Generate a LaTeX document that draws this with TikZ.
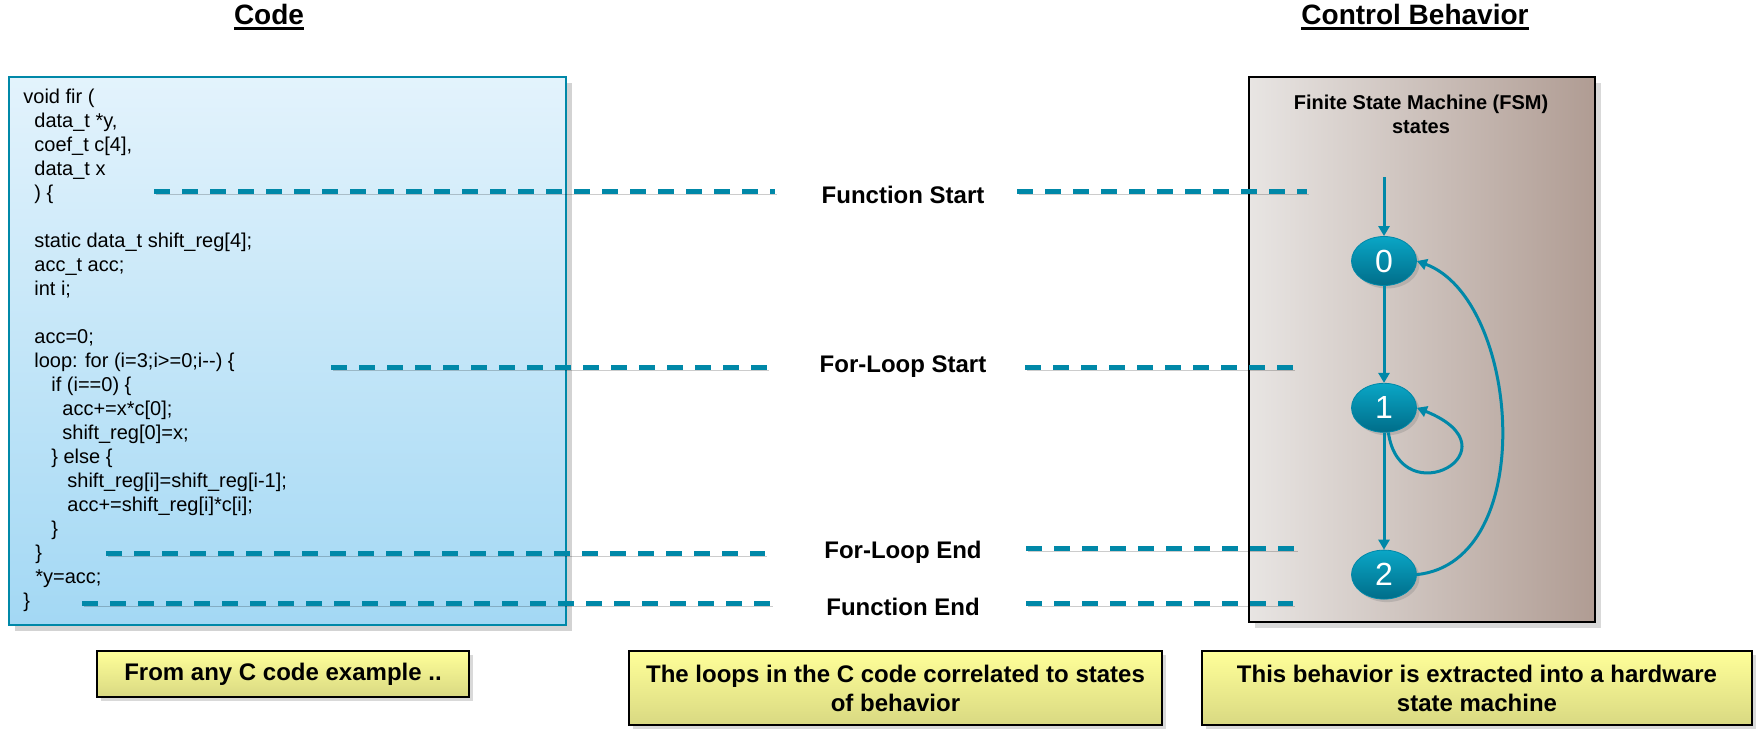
\documentclass[tikz,border=0pt]{standalone}
\usepackage{fontspec}
\setmainfont{Liberation Sans}
\usetikzlibrary{positioning,shapes.geometric,shadows,arrows.meta}

\definecolor{fsmteal}{HTML}{0088A8}
\definecolor{codetop}{HTML}{E3F3FC}
\definecolor{codebot}{HTML}{A3D8F4}
\definecolor{fsmleft}{HTML}{E8E5E3}
\definecolor{fsmright}{HTML}{B09C93}
\definecolor{statetop}{HTML}{0AA6C6}
\definecolor{statebot}{HTML}{006D89}
\definecolor{noteyel}{HTML}{FFFF99}

\newcommand{\headline}[1]{\setbox0\hbox{#1}\rlap{\rule[-3pt]{\wd0}{1.4pt}}\box0}

\tikzstyle{heading} = [font=\bfseries\fontsize{14}{16}\selectfont]
\tikzstyle{codebox} = [rectangle, draw=fsmteal, line width=1pt, top color=codetop, bottom color=codebot,
  drop shadow={shadow xshift=3pt, shadow yshift=-3pt, opacity=.35}, anchor=north west, inner sep=0pt,
  minimum width=278.5pt, minimum height=274pt]
\tikzstyle{codetext} = [anchor=north west, inner sep=0pt, align=left, font=\fontsize{10}{12}\selectfont]
\tikzstyle{fsmbox} = [rectangle, draw=black, line width=1.2pt, left color=fsmleft, right color=fsmright,
  drop shadow={shadow xshift=3pt, shadow yshift=-3pt, opacity=.3}, anchor=north west, inner sep=0pt,
  minimum width=173pt, minimum height=272.5pt]
\tikzstyle{state} = [ellipse, draw=fsmteal, line width=.4pt, top color=statetop, bottom color=statebot,
  drop shadow={shadow xshift=1.5pt, shadow yshift=-1.5pt, opacity=.3}, text=white, inner sep=0pt,
  minimum width=32.5pt, minimum height=24.5pt, font=\fontsize{16}{16}\selectfont]
\tikzstyle{trans} = [draw=fsmteal, line width=1.5pt, -{Triangle[length=5pt,width=5.5pt]}]
\tikzstyle{guide} = [draw=fsmteal, line width=2.5pt, dash pattern=on 8pt off 6pt,
  preaction={draw=black, opacity=.2, transform canvas={shift={(1pt,-1.5pt)}}}]
\tikzstyle{marker} = [font=\bfseries\fontsize{12}{14}\selectfont]
\tikzstyle{notebox} = [rectangle, draw=black, line width=1.3pt, top color=noteyel, middle color=noteyel,
  bottom color=noteyel!85!black, drop shadow={shadow xshift=2pt, shadow yshift=-2pt, opacity=.3},
  align=center, inner sep=0pt, font=\bfseries\fontsize{12}{14.5}\selectfont]

\begin{document}
\begin{tikzpicture}[x=0.5pt, y=-0.5pt]
  \useasboundingbox (0,0) rectangle (1761,733);

  \node (codetitle) [heading] at (269,17) {\headline{Code}};
  \node (fsmtitle) [heading] at (1415,17) {\headline{Control Behavior}};

  \node (codebg) [codebox] at (8,76) {};
  \node (code) [codetext] at (23,89) {void fir (\\
    \hspace*{5.5pt}data\_t *y,\\
    \hspace*{5.5pt}coef\_t c[4],\\
    \hspace*{5.5pt}data\_t x\\
    \hspace*{5.5pt}) \{\\
    \mbox{}\\
    \hspace*{5.5pt}static data\_t shift\_reg[4];\\
    \hspace*{5.5pt}acc\_t acc;\\
    \hspace*{5.5pt}int i;\\
    \mbox{}\\
    \hspace*{5.5pt}acc=0;\\
    \hspace*{5.5pt}loop: for (i=3;i>=0;i-{}-) \{\\
    \hspace*{14pt}if (i==0) \{\\
    \hspace*{19.5pt}acc+=x*c[0];\\
    \hspace*{19.5pt}shift\_reg[0]=x;\\
    \hspace*{14pt}\} else \{\\
    \hspace*{22pt}shift\_reg[i]=shift\_reg[i-1];\\
    \hspace*{22pt}acc+=shift\_reg[i]*c[i];\\
    \hspace*{14pt}\}\\
    \hspace*{6pt}\}\\
    \hspace*{6pt}*y=acc;\\
    \}};

  \node (fsm) [fsmbox] at (1248,76) {};
  \node (fsmhead) [font=\bfseries\fontsize{10}{12}\selectfont, align=center] at (1421,114)
    {Finite State Machine (FSM)\\states};

  \node (s0) [state] at (1384,261) {0};
  \node (s1) [state, below=48.5pt of s0] {1};
  \node (s2) [state, below=58.5pt of s1] {2};
  \coordinate (init) at (1384,177);
  \draw[trans] (init) -- (s0);
  \draw[trans] (s0) -- (s1);
  \draw[trans] (s1) -- (s2);
  \draw[trans] (s1.-80) .. controls +(12,84) and +(104,42) .. (s1.east);
  \draw[trans] (s2.east) .. controls +(123,-13) and +(103,38) .. (s0.east);

  \node (fstart) [marker] at (903,195) {Function Start};
  \node (lstart) [marker] at (903,367) {For-Loop Start};
  \node (lend) [marker] at (903,552) {For-Loop End};
  \node (fend) [marker] at (903,607) {Function End};

  \coordinate (fs-a) at (154,191);  \coordinate (fs-b) at (775,191);
  \coordinate (fs-c) at (1017,191); \coordinate (fs-d) at (1307,191);
  \coordinate (ls-a) at (331,367);  \coordinate (ls-b) at (767,367);
  \coordinate (ls-c) at (1025,367); \coordinate (ls-d) at (1293,367);
  \coordinate (le-a) at (106,553);  \coordinate (le-b) at (765,553);
  \coordinate (le-c) at (1026,548); \coordinate (le-d) at (1296,548);
  \coordinate (fe-a) at (82,603);   \coordinate (fe-b) at (771,603);
  \coordinate (fe-c) at (1026,603); \coordinate (fe-d) at (1293,603);
  \draw[guide] (fs-a) -- (fs-b);
  \draw[guide] (fs-c) -- (fs-d);
  \draw[guide] (ls-a) -- (ls-b);
  \draw[guide] (ls-c) -- (ls-d);
  \draw[guide] (le-a) -- (le-b);
  \draw[guide] (le-c) -- (le-d);
  \draw[guide] (fe-a) -- (fe-b);
  \draw[guide] (fe-c) -- (fe-d);

  \node (note1) [notebox, minimum width=186pt, minimum height=23pt] at (283,674)
    {From any C code example ..};
  \node (note2) [notebox, minimum width=266.5pt, minimum height=37pt] at (895.5,688)
    {The loops in the C code correlated to states\\of behavior};
  \node (note3) [notebox, minimum width=275pt, minimum height=37pt] at (1477,688)
    {This behavior is extracted into a hardware\\state machine};
\end{tikzpicture}
\end{document}
